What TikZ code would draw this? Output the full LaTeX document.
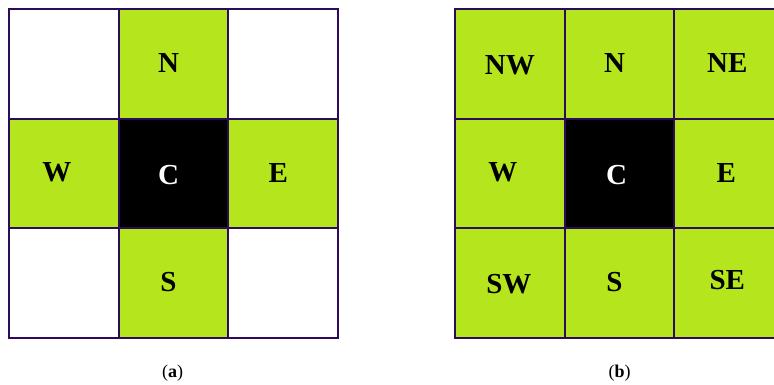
\documentclass[tikz,border=0pt]{standalone}
\usepackage{fontspec}
\setmainfont{Liberation Serif}
\definecolor{lime}{RGB}{181,230,29}
\definecolor{edge}{RGB}{46,10,90}
\begin{document}
\begin{tikzpicture}[x=1pt,y=1pt,
  cell/.style={draw=edge,line width=2pt,minimum size=109.7pt,inner sep=0pt,outer sep=0pt,anchor=north west},
  gcell/.style={cell,fill=lime},
  wcell/.style={cell,fill=white},
  ccell/.style={cell,fill=black},
  lbl/.style={font=\fontsize{29}{29}\selectfont\bfseries,inner sep=0pt},
  captext/.style={font=\fontsize{18}{18}\selectfont}]
\useasboundingbox (0,0) rectangle (774,-385);
\clip (0,0) rectangle (774,-385);
% grid (a)
\node[wcell] (aNW) at (9,-9) {};
\node[gcell] (aN) at (118.7,-9) {};
\node[wcell] (aNE) at (228.4,-9) {};
\node[gcell] (aW) at (9,-118.7) {};
\node[ccell] (aC) at (118.7,-118.7) {};
\node[gcell] (aE) at (228.4,-118.7) {};
\node[wcell] (aSW) at (9,-228.4) {};
\node[gcell] (aS) at (118.7,-228.4) {};
\node[wcell] (aSE) at (228.4,-228.4) {};
\node[lbl] (taN) at ([xshift=-5pt,yshift=1pt]aN.center) {N};
\node[lbl] (taW) at ([xshift=-7pt,yshift=1pt]aW.center) {W};
\node[lbl,text=white] (taC) at ([xshift=-5pt,yshift=-1pt]aC.center) {C};
\node[lbl] (taE) at ([xshift=-5pt,yshift=1pt]aE.center) {E};
\node[lbl] (taS) at ([xshift=-5pt,yshift=1pt]aS.center) {S};
% grid (b)
\node[gcell] (bNW) at (455,-9) {};
\node[gcell] (bN) at (564.7,-9) {};
\node[gcell] (bNE) at (674.4,-9) {};
\node[gcell] (bW) at (455,-118.7) {};
\node[ccell] (bC) at (564.7,-118.7) {};
\node[gcell] (bE) at (674.4,-118.7) {};
\node[gcell] (bSW) at (455,-228.4) {};
\node[gcell] (bS) at (564.7,-228.4) {};
\node[gcell] (bSE) at (674.4,-228.4) {};
\node[lbl] (tbNW) at ([yshift=-1pt]bNW.center) {NW};
\node[lbl] (tbN) at ([xshift=-5pt,yshift=1pt]bN.center) {N};
\node[lbl] (tbNE) at ([xshift=-2pt,yshift=1pt]bNE.center) {NE};
\node[lbl] (tbW) at ([xshift=-7pt,yshift=1pt]bW.center) {W};
\node[lbl,text=white] (tbC) at ([xshift=-3pt,yshift=-1pt]bC.center) {C};
\node[lbl] (tbE) at ([xshift=-3pt,yshift=1pt]bE.center) {E};
\node[lbl] (tbSW) at ([xshift=-1pt,yshift=-1pt]bSW.center) {SW};
\node[lbl] (tbS) at ([xshift=-5pt,yshift=1pt]bS.center) {S};
\node[lbl] (tbSE) at ([xshift=-2pt,yshift=3pt]bSE.center) {SE};
% captions
\node[captext] (capa) at (172.5,-373) {(\textbf{a})};
\node[captext] (capb) at (619.5,-373) {(\textbf{b})};
\end{tikzpicture}
\end{document}
